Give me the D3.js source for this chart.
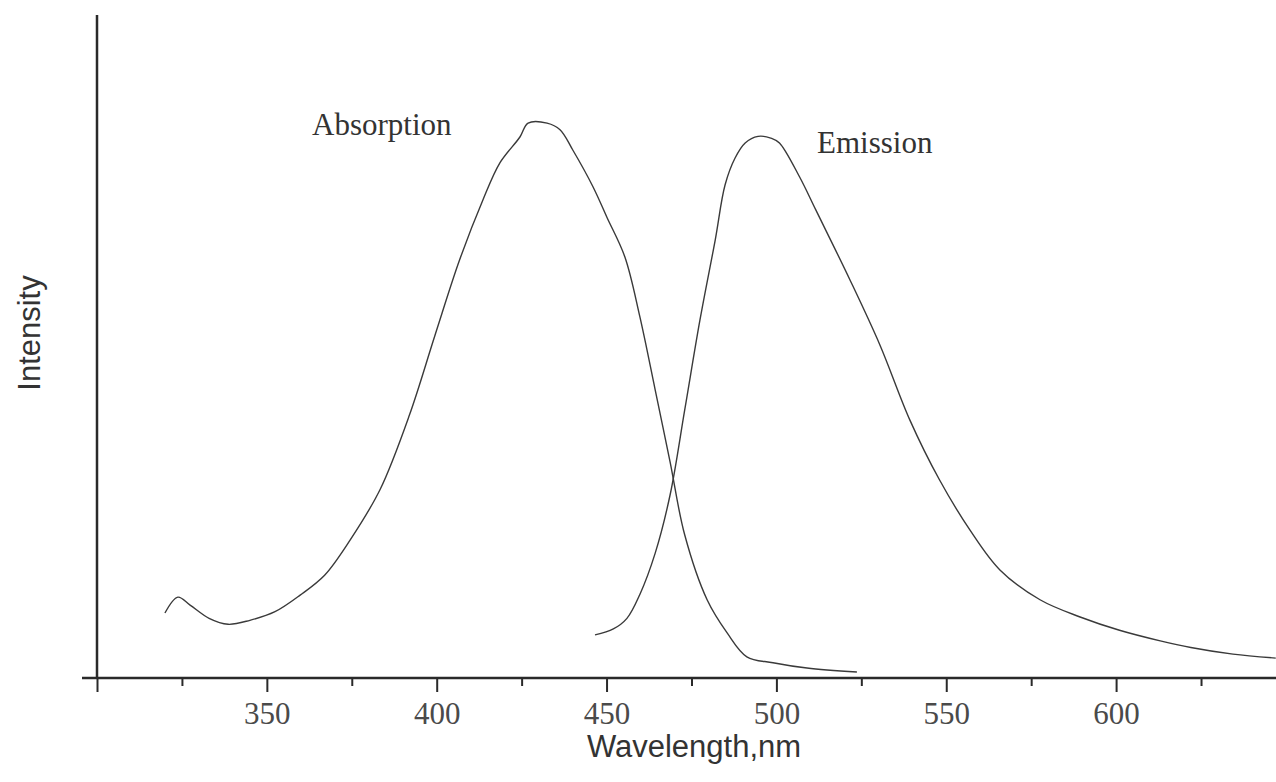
<!DOCTYPE html>
<html>
<head>
<meta charset="utf-8">
<script src="https://cdn.jsdelivr.net/npm/d3@7"></script>
<style>
  body { margin: 0; background: #fff; }
  svg { display: block; }
</style>
</head>
<body>
<div id="chart"></div>
<script>
// spectrum data (wavelength in nm, intensity in arbitrary units)
var absWavelength = [320, 323.8, 327.4, 333, 338.6, 345, 352.4, 359.8, 367, 374.5, 383.3, 392, 399.5, 406.7,
  413.6, 418.6, 424.5, 426.9, 432.5, 436.3, 440.1, 446, 450.1, 455.4, 459.8, 464.3, 468.7, 473,
  479.6, 485.5, 491.3, 499, 509, 523.7];
var absIntensity = [9.8, 12.2, 11.0, 9.0, 8.1, 8.7, 10.0, 12.5, 15.5, 20.8, 28.4, 39.7, 51.7, 63.0,
  72.1, 77.7, 81.6, 83.7, 83.7, 82.7, 79.6, 74.1, 69.5, 63.5, 54.5, 43.5, 32.6, 21.6,
  11.8, 6.8, 3.2, 2.3, 1.5, 0.9];

var emWavelength = [446.6, 452, 456, 459.8, 464.3, 468.7, 473, 477.5, 482, 484.9, 487.8, 490.8, 494.6,
  498.6, 500.9, 506.8, 511.6, 521.7, 530.5, 539.3, 548, 557, 565.8, 577.6, 589.4, 601, 613,
  622, 634.4, 647];
var emIntensity = [6.5, 7.4, 9.0, 12.6, 18.8, 27.6, 40.4, 54.0, 66.1, 74.4, 78.4, 80.7, 81.7,
  81.4, 80.7, 75.6, 70.6, 60.0, 50.2, 38.9, 29.9, 22.3, 16.3, 11.8, 9.2, 7.2, 5.6,
  4.6, 3.6, 3.0];

var majorTicks = [300, 350, 400, 450, 500, 550, 600];
var minorTicks = [325, 375, 425, 475, 525, 575, 625];
var tickLabels = ["", "350", "400", "450", "500", "550", "600"];

var svgWidth = 1276;
var svgHeight = 782;

var margin = { top: 15, right: 0, bottom: 104, left: 97 };
var height = svgHeight - margin.top - margin.bottom;

var svg = d3.select("#chart")
  .append("svg")
  .attr("width", svgWidth)
  .attr("height", svgHeight);

// scales
var xScale = d3.scaleLinear()
  .domain([300, 300 + (svgWidth - margin.left) / 3.397])
  .range([margin.left, svgWidth]);

var yScale = d3.scaleLinear()
  .domain([0, 100])
  .range([margin.top + height, margin.top]);

var axisColor = "#2a2a2a";
var inkColor = "#3a3a3a";

// x axis: major ticks with labels
var bottomAxis = d3.axisBottom(xScale)
  .tickValues(majorTicks)
  .tickSize(14)
  .tickSizeOuter(0)
  .tickFormat(function(d, i) { return tickLabels[i]; });

var xAxis = svg.append("g")
  .attr("transform", `translate(0, ${yScale(0)})`)
  .call(bottomAxis);

xAxis.select(".domain").remove();
xAxis.selectAll(".tick line")
  .attr("stroke", axisColor)
  .attr("stroke-width", 2);
xAxis.selectAll(".tick text")
  .attr("y", 46)
  .attr("dy", 0)
  .attr("fill", "#4a4a4a")
  .style("font-family", "'Liberation Serif', 'Times New Roman', serif")
  .style("font-size", "31px");

// minor ticks
var minorAxis = d3.axisBottom(xScale)
  .tickValues(minorTicks)
  .tickSize(8)
  .tickSizeOuter(0)
  .tickFormat("");

var xMinor = svg.append("g")
  .attr("transform", `translate(0, ${yScale(0)})`)
  .call(minorAxis);
xMinor.select(".domain").remove();
xMinor.selectAll(".tick line")
  .attr("stroke", axisColor)
  .attr("stroke-width", 2);

// axis lines
svg.append("line")
  .attr("x1", 82)
  .attr("x2", svgWidth)
  .attr("y1", yScale(0))
  .attr("y2", yScale(0))
  .attr("stroke", axisColor)
  .attr("stroke-width", 2.5);

svg.append("line")
  .attr("x1", xScale(300))
  .attr("x2", xScale(300))
  .attr("y1", yScale(100))
  .attr("y2", yScale(0))
  .attr("stroke", axisColor)
  .attr("stroke-width", 2.5);

// curves
var line = d3.line()
  .x(d => xScale(d[0]))
  .y(d => yScale(d[1]))
  .curve(d3.curveCatmullRom.alpha(0.5));

var absData = absWavelength.map((w, i) => [w, absIntensity[i]]);
var emData = emWavelength.map((w, i) => [w, emIntensity[i]]);

svg.append("path")
  .datum(absData)
  .attr("d", line)
  .attr("fill", "none")
  .attr("stroke", inkColor)
  .attr("stroke-width", 1.4);

svg.append("path")
  .datum(emData)
  .attr("d", line)
  .attr("fill", "none")
  .attr("stroke", inkColor)
  .attr("stroke-width", 1.4);

// curve labels
svg.append("text")
  .attr("x", 312)
  .attr("y", 135)
  .attr("fill", "#333")
  .style("font-family", "'Liberation Serif', 'Times New Roman', serif")
  .style("font-size", "31px")
  .text("Absorption");

svg.append("text")
  .attr("x", 817)
  .attr("y", 153)
  .attr("fill", "#333")
  .style("font-family", "'Liberation Serif', 'Times New Roman', serif")
  .style("font-size", "31px")
  .text("Emission");

// axis titles
svg.append("text")
  .attr("x", 694)
  .attr("y", 757)
  .attr("text-anchor", "middle")
  .attr("fill", "#333")
  .style("font-family", "'Liberation Sans', Arial, sans-serif")
  .style("font-size", "31px")
  .text("Wavelength,nm");

svg.append("text")
  .attr("transform", "rotate(-90)")
  .attr("x", -333)
  .attr("y", 40)
  .attr("text-anchor", "middle")
  .attr("fill", "#333")
  .style("font-family", "'Liberation Sans', Arial, sans-serif")
  .style("font-size", "31px")
  .text("Intensity");
</script>
</body>
</html>
